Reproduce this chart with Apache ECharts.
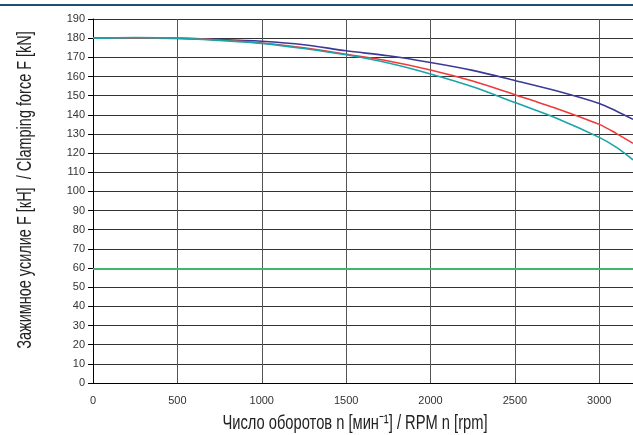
<!DOCTYPE html>
<html>
<head>
<meta charset="utf-8">
<script src="https://cdn.jsdelivr.net/npm/echarts@6/dist/echarts.min.js"></script>
<style>
  html, body { margin: 0; padding: 0; background: #fff; }
  #main { width: 633px; height: 435px; }
</style>
</head>
<body>
<div id="main"></div>
<script>
// rpm values where the curves were read
const RPM = [0, 250, 500, 750, 1000, 1250, 1500, 1750, 2000, 2250, 2500, 2750, 3000, 3100, 3200];
const FORCE_BLUE = [180, 180, 179.8, 179.3, 178.4, 176.6, 173.4, 170.8, 167.3, 163.2, 157.9, 152.4, 145.9, 142.0, 137.6];
const FORCE_RED = [180, 180, 180, 179, 177.5, 175, 171.6, 168.1, 163.4, 157.6, 150.5, 143.2, 135.0, 130.3, 125.1];
const FORCE_TEAL = [180, 180.3, 180, 178.8, 177.3, 174.6, 171.3, 167.0, 161.3, 154.6, 146.4, 138.1, 128.2, 123.1, 116.5];
const MIN_RPM = [0, 3200];
const MIN_FORCE = [59.5, 59.5];
const X_NAME = 'Число оборотов n [мин⁻¹] / RPM n [rpm]';
const Y_NAME = 'Зажимное усилие F [кН]  / Clamping force F [kN]';

const pairs = (xs, ys) => xs.map((x, i) => [x, ys[i]]);

var myChart = echarts.init(document.getElementById('main'), null, { renderer: 'canvas' });

const curve = (data, color, z) => ({
  type: 'line',
  data: data,
  smooth: 0.3,
  showSymbol: false,
  z: z,
  lineStyle: { color: color, width: 1.6 }
});

const nameFont = { fontFamily: 'Liberation Sans', fontSize: 21, fill: '#222' };

let option = {
  backgroundColor: '#fff',
  animation: false,
  grid: { left: 93, right: 0, top: 19, bottom: 52 },
  graphic: [{
    type: 'rect',
    shape: { x: 0, y: 4, width: 633, height: 2 },
    style: { fill: '#1d4e78' }
  }, {
    type: 'text',
    x: 355, y: 423,
    scaleX: 0.70,
    style: Object.assign({ text: X_NAME, align: 'center', verticalAlign: 'middle' }, nameFont)
  }, {
    type: 'text',
    x: 25, y: 190,
    rotation: Math.PI / 2,
    scaleX: 0.69,
    style: Object.assign({ text: Y_NAME, align: 'center', verticalAlign: 'middle' }, nameFont)
  }],
  xAxis: {
    type: 'value',
    min: 0,
    max: 3200,
    interval: 500,
    axisLine: { lineStyle: { color: '#000', width: 1 } },
    axisTick: { show: false },
    axisLabel: {
      color: '#333', fontSize: 11, fontFamily: 'Liberation Sans', margin: 12, showMaxLabel: false,
      formatter: v => String(v)
    },
    splitLine: { show: true, lineStyle: { color: '#555', width: 1 } }
  },
  yAxis: {
    type: 'value',
    min: 0,
    max: 190,
    interval: 10,
    axisLine: { show: true, lineStyle: { color: '#000', width: 1 } },
    axisTick: { show: true, length: 5, lineStyle: { color: '#000' } },
    axisLabel: { color: '#333', fontSize: 11, fontFamily: 'Liberation Sans', margin: 8 },
    splitLine: { show: true, lineStyle: { color: '#333', width: 1 } }
  },
  series: [
    curve(pairs(RPM, FORCE_BLUE), '#3a3a99', 3),
    curve(pairs(RPM, FORCE_RED), '#f03a3a', 4),
    curve(pairs(RPM, FORCE_TEAL), '#1aa3a8', 5),
    {
      type: 'line',
      data: pairs(MIN_RPM, MIN_FORCE),
      showSymbol: false,
      lineStyle: { color: '#3cb96a', width: 2 }
    }
  ]
};
option && myChart.setOption(option);
</script>
</body>
</html>
